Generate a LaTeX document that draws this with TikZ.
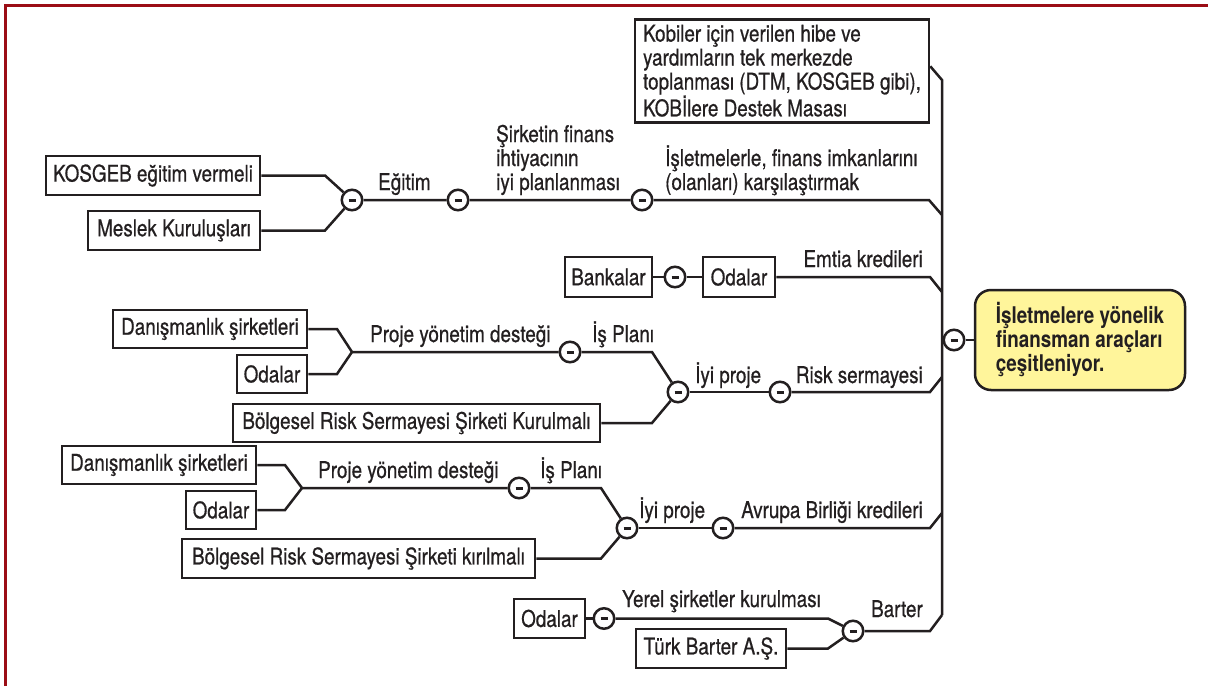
\documentclass[tikz,border=0pt]{standalone}
\usepackage{fontspec}
\setmainfont{TeX Gyre Heros}[FakeStretch=0.82, UprightFeatures={FakeBold=0.6}]
\definecolor{ink}{HTML}{231F20}
\definecolor{framered}{HTML}{9B0D15}
\definecolor{rootfill}{HTML}{FFF59B}
\tikzset{
  conn/.style={draw=ink, line width=2.5pt},
  box/.style={draw=ink, line width=2.5pt, fill=white, inner sep=0pt, text=ink},
  minus/.style={circle, draw=ink, line width=2.5pt, fill=white, minimum size=20.5pt, inner sep=0pt,
    path picture={\draw[ink, line width=3pt] ([xshift=-3.5pt]path picture bounding box.center) -- ([xshift=3.5pt]path picture bounding box.center);}},
  lbl/.style={inner sep=0pt, text=ink, anchor=base west, align=left},
  lblr/.style={inner sep=0pt, text=ink, anchor=base east},
}
\begin{document}
\begin{tikzpicture}[x=1pt,y=-1pt, every node/.style={font=\fontsize{23}{24}\selectfont}]
\useasboundingbox (0,0) rectangle (1208,686);
\fill[white] (0,0) rectangle (1208,686);
\draw[framered, line width=3pt] (5,686) -- (5,5) -- (1208,5);

% coordinates
\coordinate (sptop) at (942,80);
\coordinate (spbot) at (942,615);
\coordinate (kb) at (325,175.5);
\coordinate (mb) at (325,230.5);
\coordinate (t1) at (929,200);
\coordinate (t2) at (942,215);
\coordinate (e1) at (930,277);
\coordinate (e2) at (942,292);
\coordinate (d1b) at (337,329);
\coordinate (o1b) at (337,374);
\coordinate (f1) at (352,352);
\coordinate (ip1) at (652,352);
\coordinate (bb1) at (652,423);
\coordinate (rs1) at (930,392);
\coordinate (rs2) at (942,377);
\coordinate (d2b) at (285,465);
\coordinate (o2b) at (285,510);
\coordinate (f2) at (302,488);
\coordinate (ip2) at (601,488);
\coordinate (bb2) at (601,558.5);
\coordinate (ab1) at (930,528);
\coordinate (ab2) at (942,513);
\coordinate (yb) at (828,618.5);
\coordinate (tb) at (828,648.5);
\coordinate (b1) at (930,631);

% top branch
\node[box, minimum width=214pt, minimum height=39pt] (kos) at (153,175.5) {KOSGEB eğitim vermeli};
\node[box, minimum width=172pt, minimum height=39pt] (mes) at (174,230.5) {Meslek Kuruluşları};
\node[minus] (c1) at (352,200) {};
\node[minus] (c2) at (458,200) {};
\node[minus] (c3) at (642,200) {};
\node[box, minimum width=294pt, minimum height=103pt, align=left, anchor=north] (kob) at (782,18) {Kobiler için verilen hibe ve\\yardımların tek merkezde\\toplanması (DTM, KOSGEB gibi),\\KOBİlere Destek Masası};
\draw[conn] (kos.east) -- (kb) -- (c1);
\draw[conn] (mes.east) -- (mb) -- (c1);
\draw[conn] (c1) -- (c2) -- (c3) -- (t1) -- (t2);
\node[lbl] at (378,190) {Eğitim};
\node[lbl] at (496,190) {Şirketin finans\\ihtiyacının\\iyi planlanması};
\node[lbl] at (665,190) {İşletmelerle, finans imkanlarını\\(olanları) karşılaştırmak};

% spine and root
\draw[conn] ([yshift=4.5pt]kob.east) -- (sptop) -- (spbot);
\node[minus] (rc) at (954,340) {};
\node[box, fill=rootfill, rounded corners=16pt, minimum width=210pt, minimum height=100pt, align=left,
  font=\fontsize{23}{24}\selectfont\bfseries] (root) at (1080,340) {İşletmelere yönelik\\finansman araçları\\çeşitleniyor.};
\draw[conn] (rc) -- (root);

% Emtia
\node[box, minimum width=87pt, minimum height=40pt] (bank) at (608.5,277) {Bankalar};
\node[minus] (ce) at (675,277) {};
\node[box, minimum width=72pt, minimum height=40pt] (oda0) at (739,277) {Odalar};
\draw[conn] (bank) -- (ce) -- (oda0);
\draw[conn] (oda0.east) -- (e1) -- (e2);
\node[lblr] at (923,267) {Emtia kredileri};

% Risk sermayesi
\node[box, minimum width=194pt, minimum height=38pt] (dan1) at (210,329) {Danışmanlık şirketleri};
\node[box, minimum width=70pt, minimum height=38pt] (oda1) at (272,374) {Odalar};
\node[minus] (p1) at (570,352) {};
\node[minus] (j1) at (678,392) {};
\node[minus] (r1) at (780,392) {};
\node[box, minimum width=367pt, minimum height=38pt] (bol1) at (416.5,423) {Bölgesel Risk Sermayesi Şirketi Kurulmalı};
\draw[conn] (dan1.east) -- (d1b) -- (f1) -- (p1);
\draw[conn] (oda1.east) -- (o1b) -- (f1);
\draw[conn] (p1) -- (ip1) -- (j1);
\draw[conn] (bol1.east) -- (bb1) -- (j1);
\draw[conn] (j1) -- (r1);
\draw[conn] (r1) -- (rs1) -- (rs2);
\node[lbl] at (370,342) {Proje yönetim desteği};
\node[lbl] at (592,342) {İş Planı};
\node[lbl] at (695,383) {İyi proje};
\node[lblr] at (923,383) {Risk sermayesi};

% Avrupa Birligi
\node[box, minimum width=194pt, minimum height=38pt] (dan2) at (159,465) {Danışmanlık şirketleri};
\node[box, minimum width=70pt, minimum height=38pt] (oda2) at (221,510) {Odalar};
\node[minus] (p2) at (519,488) {};
\node[minus] (j2) at (627,528) {};
\node[minus] (a2) at (723,528) {};
\node[box, minimum width=353pt, minimum height=39pt] (bol2) at (358.5,558.5) {Bölgesel Risk Sermayesi Şirketi kırılmalı};
\draw[conn] (dan2.east) -- (d2b) -- (f2) -- (p2);
\draw[conn] (oda2.east) -- (o2b) -- (f2);
\draw[conn] (p2) -- (ip2) -- (j2);
\draw[conn] (bol2.east) -- (bb2) -- (j2);
\draw[conn] (j2) -- (a2);
\draw[conn] (a2) -- (ab1) -- (ab2);
\node[lbl] at (318,478) {Proje yönetim desteği};
\node[lbl] at (540,478) {İş Planı};
\node[lbl] at (639,518) {İyi proje};
\node[lblr] at (923,518) {Avrupa Birliği kredileri};

% Barter
\node[box, minimum width=71pt, minimum height=39pt] (oda3) at (549.5,618.5) {Odalar};
\node[minus] (y1) at (604,618.5) {};
\node[box, minimum width=150pt, minimum height=39pt] (turk) at (711,648.5) {Türk Barter A.Ş.};
\node[minus] (bc) at (853,631) {};
\draw[conn] (oda3) -- (y1);
\draw[conn] (y1) -- (yb) -- (bc);
\draw[conn] (turk.east) -- (tb) -- (bc);
\draw[conn] (bc) -- (b1) -- (spbot);
\node[lbl] at (622,607) {Yerel şirketler kurulması};
\node[lblr] at (923,617) {Barter};
\end{tikzpicture}
\end{document}
